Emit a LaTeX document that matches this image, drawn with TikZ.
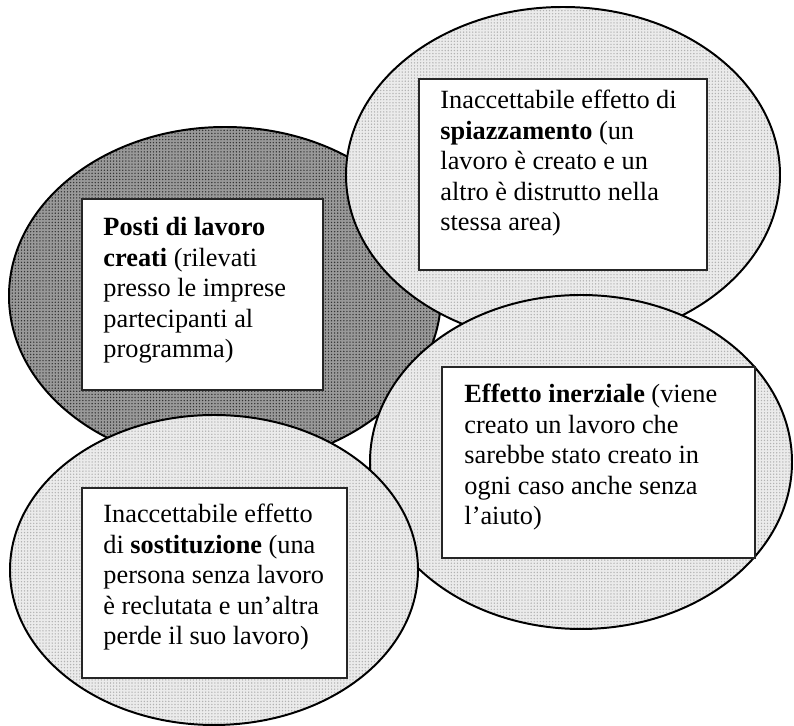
\documentclass[tikz,border=0pt]{standalone}
\usepackage{fontspec}
\setmainfont{Liberation Serif}
\usetikzlibrary{patterns}

% puntini fitti come nel retino originale
\pgfdeclarepatternformonly{puntini}{\pgfpoint{-.3pt}{-.3pt}}{\pgfpoint{.3pt}{.3pt}}%
    {\pgfpoint{1.4pt}{1.4pt}}{\pgfpathcircle{\pgfpointorigin}{.36pt}\pgfusepath{fill}}

\tikzset{
    bolla/.style={draw=black, line width=0.9pt, preaction={fill=black!8},
        pattern=puntini, pattern color=black!30},
    bollascura/.style={draw=black, line width=0.9pt, preaction={fill=black!40},
        pattern=puntini, pattern color=black!80},
    riquadro/.style={draw=black!85, line width=0.9pt, fill=white},
    testo/.style={anchor=north west, inner sep=0pt, align=left,
        font=\fontsize{12}{13.9}\selectfont}
}

\begin{document}
\begin{tikzpicture}[x=0.456pt, y=-0.456pt]
    \useasboundingbox (0,0) rectangle (794,726);

    % Ellissi, dal fondo verso l'alto
    \path[bollascura] (225,296) ellipse [x radius=216, y radius=169];
    \path[bolla] (563,175) ellipse [x radius=217, y radius=168];
    \path[bolla] (581,462) ellipse [x radius=211, y radius=167];
    \path[bolla] (214,570) ellipse [x radius=204, y radius=155];

    % Riquadri bianchi
    \draw[riquadro] (82,199) rectangle (323,390);
    \draw[riquadro] (419,79) rectangle (707,270);
    \draw[riquadro] (442,367) rectangle (755,558);
    \draw[riquadro] (82,488) rectangle (347,678);

    % Testi
    \node[testo] (posti) at (103,214) {\strut\textbf{Posti di lavoro}\\
        \textbf{creati} (rilevati\\ presso le imprese\\ partecipanti al\\ programma)};
    \node[testo] (spiazz) at (440,87) {\strut Inaccettabile effetto di\\
        \textbf{spiazzamento} (un\\ lavoro è creato e un\\
        altro è distrutto nella\\ stessa area)};
    \node[testo] (inerz) at (464,381) {\strut\textbf{Effetto inerziale} (viene\\
        creato un lavoro che\\ sarebbe stato creato in\\
        ogni caso anche senza\\ l’aiuto)};
    \node[testo] (sostit) at (103,501) {\strut Inaccettabile effetto\\
        di \textbf{sostituzione} (una\\ persona senza lavoro\\
        è reclutata e un’altra\\ perde il suo lavoro)};
\end{tikzpicture}
\end{document}
